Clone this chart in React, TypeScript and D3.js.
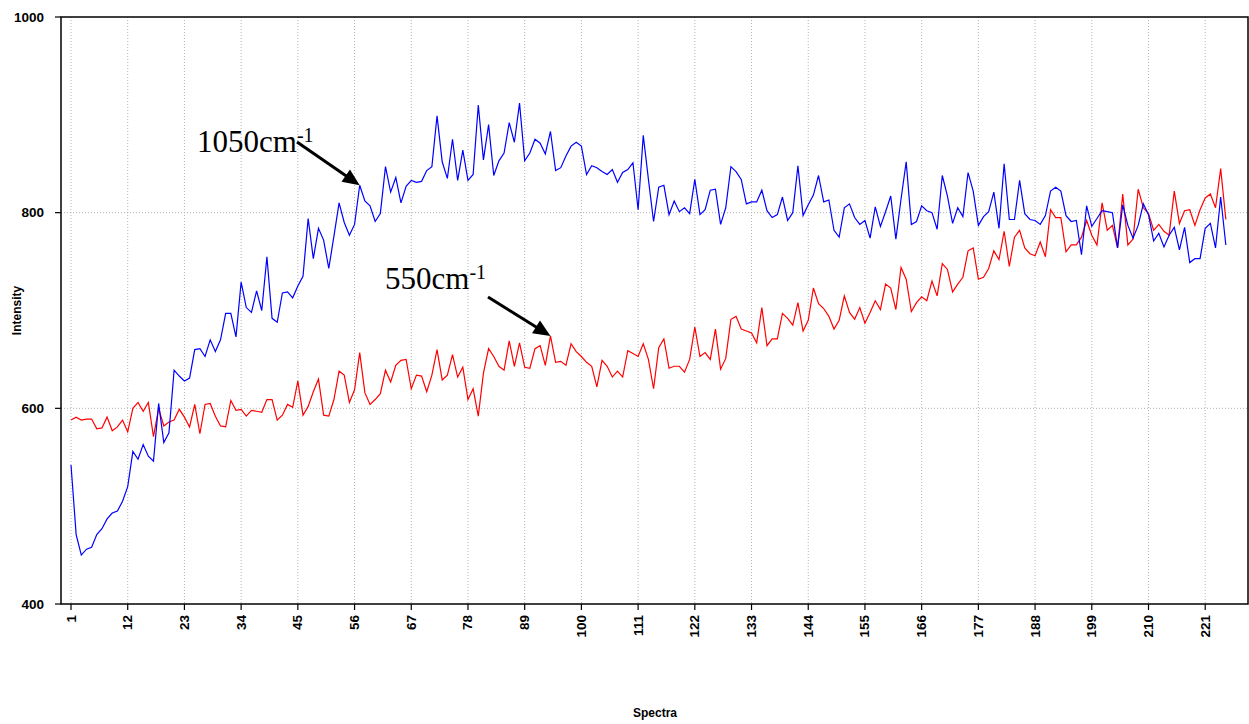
import * as d3 from 'd3';

// Intensity, spectra 1..225
const BAND_1050 = [
  542, 471, 450, 456, 458, 471, 477, 487, 493, 495, 505, 520, 556, 548, 563, 551, 546, 605, 565, 575,
  639, 633, 628, 631, 660, 661, 653, 670, 658, 670, 697, 697, 673, 729, 703, 698, 720, 700, 755, 692,
  688, 718, 719, 713, 725, 735, 794, 753, 784, 772, 743, 776, 810, 790, 777, 788, 828, 812, 807, 791,
  799, 847, 821, 836, 810, 827, 833, 831, 832, 843, 847, 899, 852, 835, 875, 833, 864, 833, 839, 910,
  854, 890, 838, 853, 861, 892, 872, 912, 853, 861, 875, 871, 860, 883, 843, 846, 858, 868, 872, 868,
  839, 848, 846, 842, 839, 844, 831, 841, 844, 851, 803, 879, 834, 791, 826, 828, 798, 812, 801, 805,
  799, 834, 798, 803, 823, 824, 788, 805, 847, 842, 834, 809, 811, 811, 823, 802, 795, 798, 816, 792,
  800, 848, 797, 808, 818, 838, 811, 813, 782, 775, 805, 809, 795, 788, 792, 774, 806, 786, 801, 817,
  773, 814, 852, 788, 791, 807, 802, 800, 783, 838, 817, 789, 805, 796, 841, 822, 787, 796, 801, 821,
  784, 850, 793, 793, 833, 799, 793, 792, 788, 797, 822, 826, 822, 797, 791, 792, 757, 807, 786, 794,
  802, 801, 800, 764, 808, 787, 774, 787, 809, 798, 771, 779, 765, 777, 785, 762, 785, 749, 753, 753,
  784, 789, 764, 816, 767,
];

const BAND_550 = [
  588, 591, 588, 589, 589, 579, 580, 591, 577, 581, 588, 576, 600, 606, 597, 606, 571, 600, 582, 586,
  588, 599, 591, 581, 604, 574, 604, 605, 592, 582, 581, 608, 598, 599, 592, 598, 597, 596, 609, 609,
  588, 593, 604, 601, 628, 593, 602, 617, 630, 593, 592, 609, 638, 634, 606, 619, 657, 616, 604, 609,
  615, 639, 627, 644, 649, 650, 620, 634, 633, 617, 634, 660, 629, 634, 655, 632, 642, 609, 620, 592,
  636, 661, 653, 643, 639, 669, 643, 667, 642, 641, 661, 664, 644, 674, 647, 648, 644, 666, 658, 653,
  647, 643, 622, 649, 643, 632, 638, 632, 659, 656, 653, 666, 650, 620, 662, 671, 641, 643, 643, 637,
  650, 683, 653, 657, 650, 681, 640, 651, 691, 694, 681, 679, 677, 667, 703, 664, 671, 671, 697, 692,
  685, 708, 679, 690, 723, 707, 702, 694, 681, 690, 715, 698, 691, 703, 687, 698, 710, 701, 727, 723,
  701, 744, 732, 699, 708, 714, 710, 730, 715, 748, 742, 719, 727, 734, 761, 764, 732, 734, 743, 761,
  752, 781, 745, 775, 782, 764, 758, 756, 770, 755, 803, 795, 795, 760, 767, 767, 775, 792, 777, 767,
  810, 782, 787, 764, 819, 767, 773, 824, 805, 799, 782, 788, 781, 777, 822, 789, 802, 803, 787, 803,
  815, 819, 805, 845, 793,
];

const SPECTRA = d3.range(1, BAND_1050.length + 1);
const X_TICKS = [1, 12, 23, 34, 45, 56, 67, 78, 89, 100, 111, 122, 133, 144, 155, 166, 177, 188, 199, 210, 221];
const Y_TICKS = [400, 600, 800, 1000];

// annotation: label text, spectrum the arrow points at, series
const NOTES = [
  { label: '1050cm', sup: '-1', spectrum: 57, series: BAND_1050, tx: 197, ty: 152, ax: 297, ay: 142 },
  { label: '550cm', sup: '-1', spectrum: 94, series: BAND_550, tx: 385, ty: 289, ax: 488, ay: 297 },
];

const W = 1249;
const H = 724;
const plot = { left: 61, top: 17, right: 1248, bottom: 604 };
const SANS = '"Liberation Sans", Arial, sans-serif';

export default function App() {
  const x = d3.scaleLinear().domain([-0.94, 229.3]).range([plot.left, plot.right]);
  const y = d3.scaleLinear().domain([400, 1000]).range([plot.bottom, plot.top]);

  const line = d3
    .line<number>()
    .x((_, i) => x(SPECTRA[i]))
    .y(d => y(d));

  const arrow = (x1: number, y1: number, x2: number, y2: number) => {
    const dx = x2 - x1;
    const dy = y2 - y1;
    const len = Math.hypot(dx, dy);
    const ux = dx / len;
    const uy = dy / len;
    const bx = x2 - ux * 17;
    const by = y2 - uy * 17;
    const pts = [
      [x2, y2],
      [bx - uy * 7.5, by + ux * 7.5],
      [bx + uy * 7.5, by - ux * 7.5],
    ];
    return (
      <g>
        <line x1={x1} y1={y1} x2={bx + ux * 2} y2={by + uy * 2} stroke="#000" strokeWidth={3} />
        <polygon points={pts.map(p => p.join(',')).join(' ')} fill="#000" />
      </g>
    );
  };

  return (
    <svg
      width={W}
      height={H}
      style={{ position: 'absolute', left: 0, top: 0, background: '#fff' }}
    >
      {/* grid */}
      {X_TICKS.map(t => (
        <line
          key={'gx' + t}
          x1={x(t)}
          x2={x(t)}
          y1={plot.top}
          y2={plot.bottom}
          stroke="#b4b4b4"
          strokeWidth={1}
          strokeDasharray="1,2"
        />
      ))}
      {Y_TICKS.slice(1, -1).map(t => (
        <line
          key={'gy' + t}
          x1={plot.left}
          x2={plot.right}
          y1={y(t)}
          y2={y(t)}
          stroke="#b4b4b4"
          strokeWidth={1}
          strokeDasharray="1,2"
        />
      ))}

      {/* series */}
      <path d={line(BAND_550) ?? ''} fill="none" stroke="#ff0000" strokeWidth={1.2} />
      <path d={line(BAND_1050) ?? ''} fill="none" stroke="#0000ff" strokeWidth={1.2} />

      {/* frame */}
      <rect
        x={plot.left}
        y={plot.top}
        width={plot.right - plot.left}
        height={plot.bottom - plot.top}
        fill="none"
        stroke="#000"
        strokeWidth={1.5}
      />

      {/* y axis */}
      {Y_TICKS.map(t => (
        <g key={'ty' + t}>
          <line x1={plot.left - 6} x2={plot.left} y1={y(t)} y2={y(t)} stroke="#000" strokeWidth={1.2} />
          <text
            x={plot.left - 17}
            y={y(t)}
            textAnchor="end"
            dominantBaseline="central"
            fontFamily={SANS}
            fontWeight="bold"
            fontSize={13.5}
          >
            {t}
          </text>
        </g>
      ))}

      {/* x axis */}
      {X_TICKS.map(t => (
        <g key={'tx' + t}>
          <line x1={x(t)} x2={x(t)} y1={plot.bottom} y2={plot.bottom + 6} stroke="#000" strokeWidth={1.2} />
          <text
            transform={`translate(${x(t)},${plot.bottom + 11}) rotate(-90)`}
            textAnchor="end"
            dominantBaseline="central"
            fontFamily={SANS}
            fontWeight="bold"
            fontSize={13.5}
          >
            {t}
          </text>
        </g>
      ))}

      <text
        transform={`translate(17,${(plot.top + plot.bottom) / 2}) rotate(-90)`}
        textAnchor="middle"
        dominantBaseline="central"
        fontFamily={SANS}
        fontWeight="bold"
        fontSize={12}
      >
        Intensity
      </text>
      <text
        x={655}
        y={713}
        textAnchor="middle"
        dominantBaseline="central"
        fontFamily={SANS}
        fontWeight="bold"
        fontSize={12}
      >
        Spectra
      </text>

      {/* annotations */}
      {NOTES.map(n => (
        <g key={n.label}>
          <text x={n.tx} y={n.ty} fontFamily='"Liberation Serif", "Times New Roman", serif' fontSize={31}>
            {n.label}
            <tspan fontSize={20} dy={-10}>
              {n.sup}
            </tspan>
          </text>
          {arrow(n.ax, n.ay, x(n.spectrum), y(n.series[n.spectrum - 1]))}
        </g>
      ))}
    </svg>
  );
}
